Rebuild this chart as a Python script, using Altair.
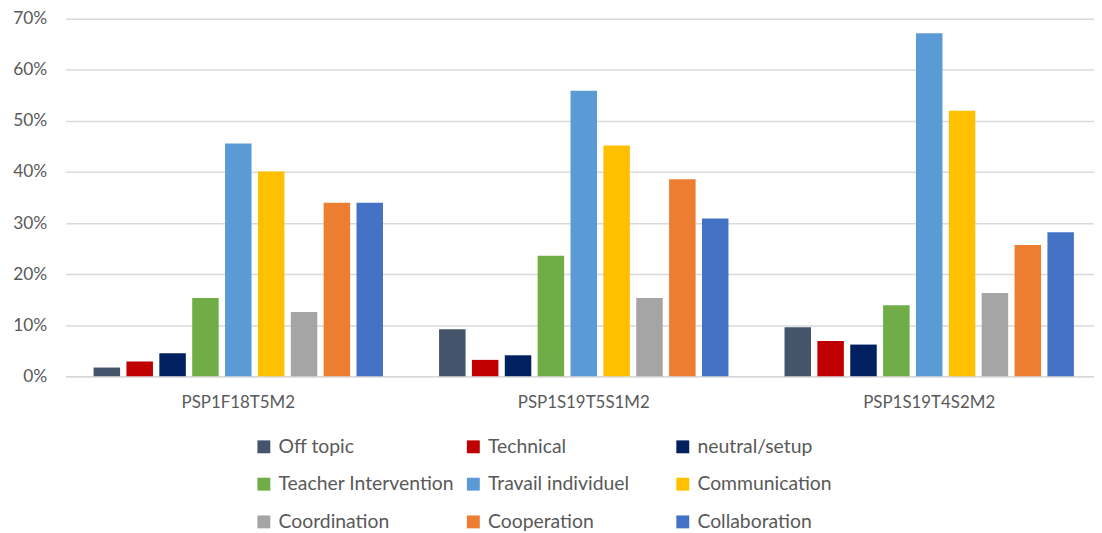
import altair as alt
import pandas as pd

groups = ["PSP1F18T5M2", "PSP1S19T5S1M2", "PSP1S19T4S2M2"]
categories = ["Off topic", "Technical", "neutral/setup", "Teacher Intervention",
              "Travail individuel", "Communication", "Coordination", "Cooperation",
              "Collaboration"]
colors = ["#44546A", "#C00000", "#002060", "#70AD47", "#5B9BD5", "#FFC000",
          "#A5A5A5", "#ED7D31", "#4472C4"]

# percent values per series, one per group
off_topic = [1.7, 9.2, 9.6]
technical = [2.9, 3.2, 6.9]
neutral_setup = [4.5, 4.1, 6.2]
teacher_intervention = [15.3, 23.6, 13.9]
travail_individuel = [45.6, 55.9, 67.2]
communication = [40.1, 45.2, 52.0]
coordination = [12.6, 15.3, 16.3]
cooperation = [34.0, 38.6, 25.7]
collaboration = [34.0, 30.9, 28.2]

series = [off_topic, technical, neutral_setup, teacher_intervention,
          travail_individuel, communication, coordination, cooperation,
          collaboration]

rows = []
for cat, vals in zip(categories, series):
    for g, v in zip(groups, vals):
        rows.append({"group": g, "category": cat, "value": v / 100})
df = pd.DataFrame(rows)

FONT = "Lato"
GRAY = "#595959"

chart = alt.Chart(df).mark_bar().encode(
    x=alt.X("group:N", sort=groups,
            scale=alt.Scale(range=[0, 1044], paddingInner=0, paddingOuter=0),
            axis=alt.Axis(title=None, labelAngle=0, labelFont=FONT, labelFontSize=17,
                          labelColor=GRAY, labelPadding=19, ticks=False,
                          domain=True, domainColor="#D9D9D9", domainWidth=1.5)),
    xOffset=alt.XOffset("category:N", sort=categories,
                        scale=alt.Scale(paddingInner=0.194, paddingOuter=0.853)),
    y=alt.Y("value:Q", scale=alt.Scale(domain=[0, 0.7]),
            axis=alt.Axis(title=None, format=".0%",
                          values=[0, 0.1, 0.2, 0.3, 0.4, 0.5, 0.6, 0.7],
                          labelFont=FONT, labelFontSize=17.5, labelColor=GRAY,
                          labelPadding=19, ticks=False, domain=False,
                          gridColor="#D9D9D9", gridWidth=1.5)),
    color=alt.Color("category:N", sort=categories,
                    scale=alt.Scale(domain=categories, range=colors),
                    legend=alt.Legend(title=None, orient="none", legendX=190, legendY=421,
                                      direction="horizontal", columns=3, gridAlign="all",
                                      symbolType="square", symbolSize=169,
                                      symbolStrokeWidth=0, labelFont=FONT,
                                      labelFontSize=19.5, labelColor=GRAY,
                                      columnPadding=9, rowPadding=17, labelOffset=5,
                                      labelLimit=180, padding=0)),
).properties(
    width=1036, height=360,
    autosize=alt.AutoSizeParams(type="none"),
    padding={"left": 58, "top": 9, "right": 0, "bottom": 155},
    background="white",
).configure_view(stroke=None)

chart.save("out.html", embed_options={"renderer": "svg", "actions": False})
